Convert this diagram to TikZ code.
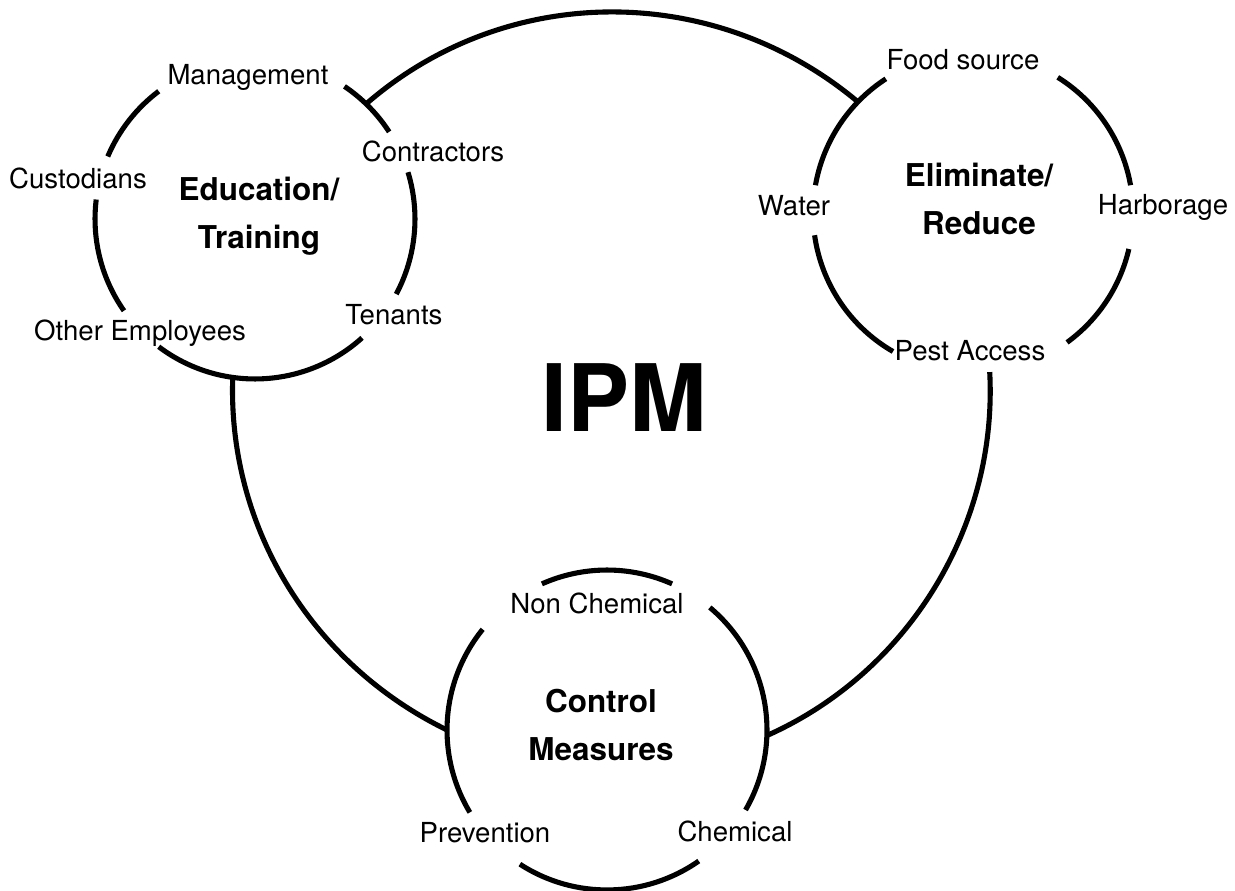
\documentclass[tikz,border=0pt]{standalone}
\usepackage{fontspec}
\setmainfont{TeX Gyre Heros}
\usetikzlibrary{topaths}

\begin{document}
\begin{tikzpicture}[x=0.02cm,y=-0.02cm,
    hub/.style={circle,minimum size=6.4cm,inner sep=0pt,outer sep=0pt},
    tag/.style={anchor=base,font=\fontsize{15.7}{18}\selectfont},
    title/.style={align=center,font=\fontsize{17.9}{27.2}\selectfont\bfseries},
    ring/.style={line width=2.9pt}]
  \useasboundingbox (0,0) rectangle (1235,891);
  \node[hub] (ed) at (255,219) {};
  \node[hub] (el) at (973,213) {};
  \node[hub] (cm) at (607,730) {};
  \node[title] (edt) at (259,216) {Education/\\Training};
  \node[title] (elt) at (979,199) {Eliminate/\\Reduce};
  \node[title] (cmt) at (601,725) {Control\\Measures};
  \node[font=\fontsize{53}{60}\selectfont\bfseries] (ipm) at (624,398) {IPM};
  \begin{scope}[every node/.style=tag]
    \node (mgmt) at (248,85) {Management};
    \node (cust) at (78,189) {Custodians};
    \node (contr) at (433,162) {Contractors};
    \node (ten) at (394,325) {Tenants};
    \node (oemp) at (140,341) {Other Employees};
    \node (food) at (963,70) {Food source};
    \node (water) at (794,216) {Water};
    \node (harb) at (1163,215) {Harborage};
    \node (pest) at (970,361) {Pest Access};
    \node (nonchem) at (597,614) {Non Chemical};
    \node (prev) at (485,843) {Prevention};
    \node (chem) at (735,842) {Chemical};
  \end{scope}
  \begin{scope}[ring]
    \draw (ed.127) arc[start angle=127,end angle=157,radius=3.2cm];
    \draw (ed.173) arc[start angle=173,end angle=215,radius=3.2cm];
    \draw (ed.233) arc[start angle=233,end angle=312,radius=3.2cm];
    \draw (ed.-28) arc[start angle=-28,end angle=17,radius=3.2cm];
    \draw (ed.33) arc[start angle=33,end angle=56,radius=3.2cm];
    \draw (el.123) arc[start angle=123,end angle=170,radius=3.2cm];
    \draw (el.188) arc[start angle=188,end angle=240,radius=3.2cm];
    \draw (el.-54) arc[start angle=-54,end angle=-13,radius=3.2cm];
    \draw (el.10) arc[start angle=10,end angle=58,radius=3.2cm];
    \draw (cm.66) arc[start angle=66,end angle=114,radius=3.2cm];
    \draw (cm.141) arc[start angle=141,end angle=211,radius=3.2cm];
    \draw (cm.-30) arc[start angle=-30,end angle=50,radius=3.2cm];
    \draw (cm.237) arc[start angle=237,end angle=305,radius=3.2cm];
    \draw (ed.46) to[out=41,in=140,looseness=0.97] (el.136);
    \draw (ed.262) to[out=-92,in=154,looseness=0.93] (cm.180);
    \draw (el.276) to[out=-87,in=24,looseness=0.93] (cm.-2);
  \end{scope}
\end{tikzpicture}
\end{document}
